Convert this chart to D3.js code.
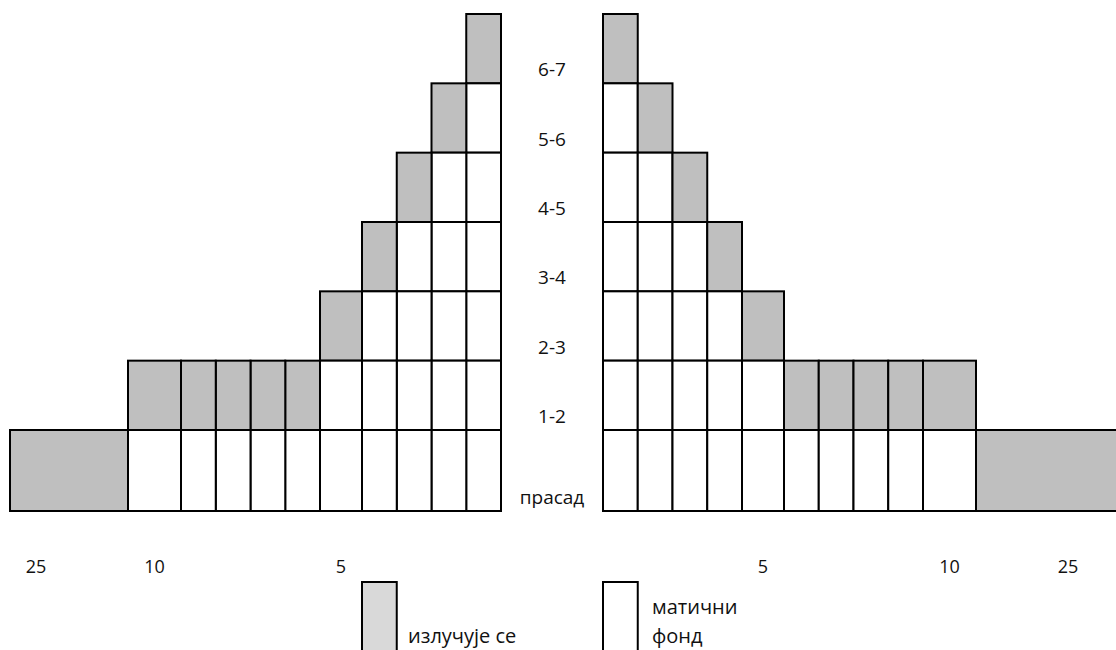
<!DOCTYPE html>
<html>
<head>
<meta charset="utf-8">
<script src="https://cdn.jsdelivr.net/npm/d3@7"></script>
<style>
  html, body { margin: 0; padding: 0; background: #fff; }
  svg { display: block; }
  text { font-family: "Open Sans", "DejaVu Sans", sans-serif; fill: #111; }
</style>
</head>
<body>
<svg id="chart" width="1116" height="650"></svg>
<script>
// ---- data ----
const ageGroups   = ["6-7", "5-6", "4-5", "3-4", "2-3", "1-2", "прасад"];
const breedCounts = [0, 1, 2, 3, 4, 5, 10];   // матични фонд (white cells)
const cullCounts  = [1, 1, 1, 1, 1, 5, 1];    // излучује се (gray cells)
const tickLabels  = ["5", "10", "25"];
const tickColumns = [4.5, 9.5, 10.78];        // column position of each tick label
const legendLabels = [["излучује се"], ["матични", "фонд"]];

// ---- layout ----
const svg = d3.select("#chart");
const leftInner = 501, rightInner = 603, centerX = 552;
const GRAY = "#bfbfbf", LEGEND_GRAY = "#d9d9d9";

// column index -> distance from inner edge (non-uniform widths)
const colScaleL = d3.scaleLinear().domain([0, 4, 5, 9, 10, 11]).range([0, 139, 181, 320, 373, 491]);
const colScaleR = d3.scaleLinear().domain([0, 4, 5, 9, 10, 11]).range([0, 139, 181, 320, 373, 522]);
const yScale = d3.scaleLinear().domain([0, 6, 7]).range([14, 430, 511]);

// build cells
const cells = [];
ageGroups.forEach((g, r) => {
  const total = breedCounts[r] + cullCounts[r];
  for (let c = 0; c < total; c++) {
    const type = c < breedCounts[r] ? "breed" : "cull";
    cells.push({ row: r, col: c, type, side: "L" });
    cells.push({ row: r, col: c, type, side: "R" });
  }
});

const g = svg.append("g");
g.selectAll("rect.cell").data(cells).join("rect")
  .attr("class", "cell")
  .attr("x", d => d.side === "L" ? leftInner - colScaleL(d.col + 1) : rightInner + colScaleR(d.col))
  .attr("width", d => d.side === "L" ? colScaleL(d.col + 1) - colScaleL(d.col) : colScaleR(d.col + 1) - colScaleR(d.col))
  .attr("y", d => yScale(d.row))
  .attr("height", d => yScale(d.row + 1) - yScale(d.row))
  .attr("fill", d => d.type === "cull" ? GRAY : "#fff")
  .attr("stroke", "#000")
  .attr("stroke-width", 2);

// row labels
g.selectAll("text.row").data(ageGroups).join("text")
  .attr("class", "row")
  .attr("x", centerX)
  .attr("y", (d, i) => yScale(i + 1) - 7)
  .attr("text-anchor", "middle")
  .attr("font-size", 19)
  .text(d => d);

// tick labels (both sides)
const ticks = [];
tickLabels.forEach((t, i) => {
  ticks.push({ t, x: leftInner - colScaleL(tickColumns[i]) });
  ticks.push({ t, x: rightInner + colScaleL(tickColumns[i]) });
});
g.selectAll("text.tick").data(ticks).join("text")
  .attr("class", "tick")
  .attr("x", d => d.x)
  .attr("y", 573)
  .attr("text-anchor", "middle")
  .attr("font-size", 18)
  .text(d => d.t);

// legend
const legend = [
  { fill: LEGEND_GRAY, x: leftInner - colScaleL(4), lines: legendLabels[0], ty: [643] },
  { fill: "#fff",      x: rightInner,                lines: legendLabels[1], ty: [614, 643] }
];
const lg = g.selectAll("g.leg").data(legend).join("g").attr("class", "leg");
lg.append("rect")
  .attr("x", d => d.x)
  .attr("y", 582)
  .attr("width", colScaleL(1) - colScaleL(0))
  .attr("height", 72)
  .attr("fill", d => d.fill)
  .attr("stroke", "#000")
  .attr("stroke-width", 2);
lg.each(function(d) {
  d3.select(this).selectAll("text").data(d.lines).join("text")
    .attr("x", d.x + 35 + (d.lines.length > 1 ? 14 : 11))
    .attr("y", (t, i) => d.ty[i])
    .attr("font-size", 20)
    .text(t => t);
});
</script>
</body>
</html>
